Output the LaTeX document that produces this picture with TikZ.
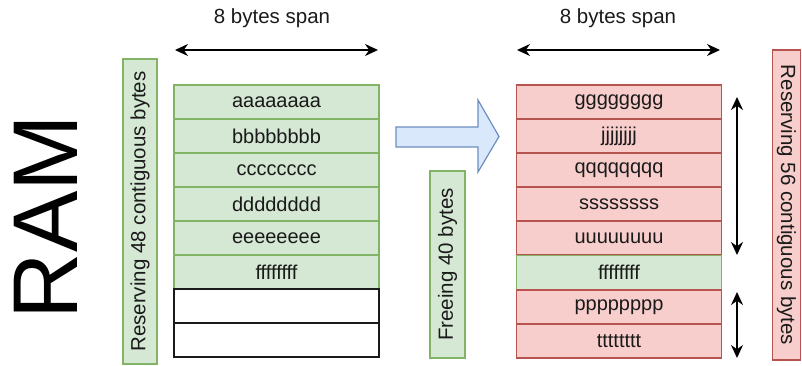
\documentclass[tikz,border=0pt]{standalone}
\usepackage{fontspec}
\setmainfont{Liberation Sans}
\usetikzlibrary{arrows.meta}
\definecolor{gfill}{HTML}{D5E8D4}
\definecolor{gline}{HTML}{82B366}
\definecolor{rfill}{HTML}{F8CECC}
\definecolor{rline}{HTML}{B85450}
\definecolor{bfill}{HTML}{DAE8FC}
\definecolor{bline}{HTML}{6C8EBF}
\definecolor{ink}{HTML}{1A1A1A}
\tikzset{
  cell/.style={draw, line width=1.2pt, minimum width=205pt, minimum height=34pt,
    inner sep=0pt, font=\fontsize{20}{23}\selectfont, text=ink},
  used/.style={cell, fill=gfill, draw=gline},
  taken/.style={cell, fill=rfill, draw=rline},
  blank/.style={cell, fill=white, draw=ink},
  sidebox/.style={draw, line width=1.2pt, inner sep=0pt, font=\fontsize{20.5}{23}\selectfont, text=ink},
  span/.style={line width=1.6pt, draw=black, {Stealth[length=13pt,width=12pt]}-{Stealth[length=13pt,width=12pt]}},
  lbl/.style={font=\fontsize{20.5}{23}\selectfont, text=ink}
}
\begin{document}
\begin{tikzpicture}[x=1pt, y=-1pt]
\useasboundingbox (0,0) rectangle (802,365);

% big rotated title
\node[rotate=90, font=\fontsize{92}{92}\selectfont, inner sep=0pt] (ram) at (46,217) {RAM};

% left memory block
\node[sidebox, fill=gfill, draw=gline, rotate=90, minimum width=305pt, minimum height=34pt] (res48) at (140,211.5) {Reserving 48 contiguous bytes};
\node[used]  (la) at (276.5,102) {aaaaaaaa};
\node[used]  (lb) at (276.5,136) {bbbbbbbb};
\node[used]  (lc) at (276.5,170) {cccccccc};
\node[used]  (ld) at (276.5,204) {dddddddd};
\node[used]  (le) at (276.5,238) {eeeeeeee};
\node[used]  (lf) at (276.5,272) {ffffffff};
\node[blank] (lg) at (276.5,306) {};
\node[blank] (lh) at (276.5,340) {};

\node[lbl] (lspan) at (272,18) {8 bytes span};
\coordinate (lsa) at (175,50);
\coordinate (lsb) at (378,50);
\draw[span] (lsa) -- (lsb);

% transition arrow
\draw[fill=bfill, draw=bline, line width=1.2pt, line join=miter]
  (396,127) -- (478,127) -- (478,100) -- (499,136.5) -- (478,172) -- (478,147) -- (396,147) -- cycle;
\node[sidebox, fill=gfill, draw=gline, rotate=90, minimum width=187pt, minimum height=35pt] (free40) at (447.5,264.5) {Freeing 40 bytes};

% right memory block
\node[taken] (rg) at (619,102) {gggggggg};
\node[taken] (rj) at (619,136) {jjjjjjjj};
\node[taken] (rq) at (619,170) {qqqqqqqq};
\node[taken] (rs) at (619,204) {ssssssss};
\node[taken] (ru) at (619,238) {uuuuuuuu};
\node[used]  (rf) at (619,272.5) {ffffffff};
\node[taken] (rp) at (619,307) {pppppppp};
\node[taken] (rt) at (619,341) {tttttttt};

\node[lbl] (rspan) at (618,18) {8 bytes span};
\coordinate (rsa) at (517,50);
\coordinate (rsb) at (720,50);
\draw[span] (rsa) -- (rsb);

\coordinate (va) at (737,97);
\coordinate (vb) at (737,255);
\coordinate (vc) at (737,292);
\coordinate (vd) at (737,358);
\draw[span] (va) -- (vb);
\draw[span] (vc) -- (vd);

\node[sidebox, fill=rfill, draw=rline, rotate=-90, minimum width=310pt, minimum height=28pt] (res56) at (786.5,205) {Reserving 56 contiguous bytes};
\end{tikzpicture}
\end{document}
